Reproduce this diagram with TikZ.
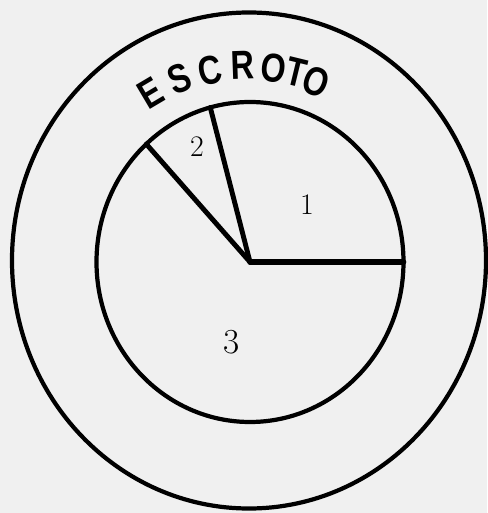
\documentclass[tikz,border=0pt]{standalone}
\usepackage{fontspec}
\newfontfamily\letterfont{Liberation Sans}

\tikzset{
  ring/.style={line width=2.4pt},
  spoke/.style={line width=2.8pt, line cap=round},
  num/.style={font=\fontsize{17}{17}\selectfont, inner sep=0pt},
  arcletter/.style={font=\letterfont\bfseries\fontsize{23}{23}\selectfont,
    inner sep=0pt, text height=16pt, text depth=0pt},
}

\begin{document}
\begin{tikzpicture}[x=0.02cm, y=0.02cm]
  % paper tone and frame
  \fill[black!6] (-250,-251) rectangle (237,262);
  \useasboundingbox (-250,-251) rectangle (237,262);
  % outer ring and inner disc
  \draw[ring] (-1,1.5) ellipse [x radius=237, y radius=248];
  \draw[ring] (0,0) ellipse [x radius=153.5, y radius=160];
  % spokes from the centre to the rim
  \coordinate (ctr) at (0,0);
  \coordinate (rim0) at (0:153.5 and 160);
  \coordinate (rim1) at (105:153.5 and 160);
  \coordinate (rim2) at (132.5:153.5 and 160);
  \draw[spoke, line width=3.2pt] (ctr) -- (rim0);
  \draw[spoke] (ctr) -- (rim1);
  \draw[spoke] (ctr) -- (rim2);
  % sector numbers
  \node[num] (sec1) at (57,57) {1};
  \node[num] (sec2) at (-53,115) {2};
  \node[num, font=\fontsize{20}{20}\selectfont] (sec3) at (-18,-80) {3};
  % curved title
  \foreach \ch/\ang/\rad [count=\i] in {E/120.6/196, S/111.1/197, C/101.9/196,
      R/92/197, O/83/195, T/76.3/195, O/69.8/192}
    \node[arcletter, rotate=\ang-90, xscale=0.8] (ttl\i) at (\ang:\rad) {\ch};
\end{tikzpicture}
\end{document}
